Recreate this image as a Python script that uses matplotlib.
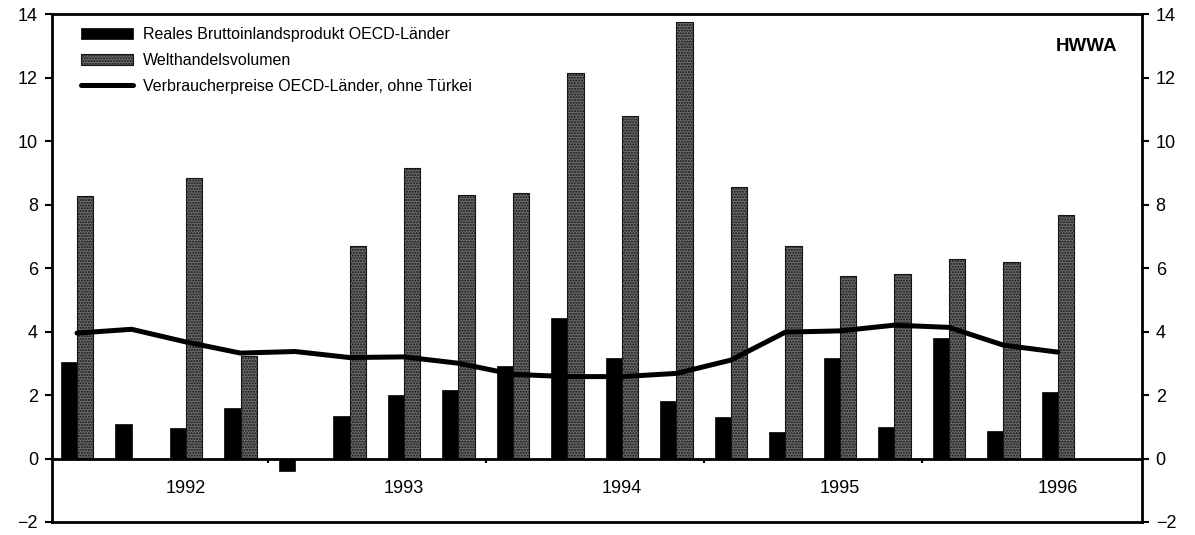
import numpy as np
import matplotlib
matplotlib.use('Agg')
import matplotlib.pyplot as plt

plt.rcParams['font.family'] = ['Liberation Sans', 'DejaVu Sans']

# quarterly values, 1992 Q1 .. 1996 Q3
quarters = np.arange(19)
bip = [3.03, 1.08, 0.95, 1.6, -0.4, 1.33, 2.0, 2.15, 2.9, 4.43,
       3.18, 1.8, 1.3, 0.83, 3.18, 0.98, 3.8, 0.86, 2.08]
welthandel = [8.26, np.nan, 8.84, 3.22, np.nan, 6.7, 9.15, 8.3, 8.36, 12.14,
              10.8, 13.76, 8.55, 6.68, 5.76, 5.82, 6.27, 6.2, 7.68]
preise = [3.95, 4.07, 3.67, 3.32, 3.37, 3.18, 3.2, 3.0, 2.65, 2.58,
          2.58, 2.68, 3.1, 3.98, 4.02, 4.2, 4.13, 3.57, 3.35]
jahre = ['1992', '1993', '1994', '1995', '1996']
jahr_pos = [2, 6, 10, 14, 18]
jahr_grenzen = [3.5, 7.5, 11.5, 15.5]

fig = plt.figure(figsize=(11.95, 5.35), dpi=100)
ax = fig.add_axes([0.0435, 0.0243, 0.912, 0.9495])

w = 0.3
b1 = ax.bar(quarters - w / 2, bip, width=w, color='black', edgecolor='black',
            linewidth=0.5, label='Reales Bruttoinlandsprodukt OECD-Länder', zorder=2)
b2 = ax.bar(quarters + w / 2, welthandel, width=w, color='#6a6a6a', edgecolor='#151515',
            hatch='......', linewidth=0.8, label='Welthandelsvolumen', zorder=2)
l1, = ax.plot(quarters, preise, color='black', lw=3.6, solid_capstyle='round',
              label='Verbraucherpreise OECD-Länder, ohne Türkei', zorder=3)

ax.axhline(0, color='black', lw=2, zorder=4)
ax.vlines(jahr_grenzen, -0.15, 0, color='black', lw=1.5, zorder=4)
for j, p in zip(jahre, jahr_pos):
    ax.text(p, -0.95, j, ha='center', va='center', fontsize=13)

ax.text(19.08, 12.97, 'HWWA', ha='right', va='center', fontsize=13.5, fontweight='bold')

ax.set_xlim(-0.46, 19.54)
ax.set_ylim(-2, 14)
ax.set_yticks(np.arange(-2, 15, 2))
ax.set_xticks([])
ax.tick_params(axis='y', left=True, right=True, labelleft=True, labelright=True,
               direction='out', length=5, width=1.5, labelsize=13, pad=5)
for s in ax.spines.values():
    s.set_linewidth(2)

ax.legend(handles=[b1, b2, l1], loc='upper left', bbox_to_anchor=(0.019, 0.99),
          frameon=False, fontsize=11.5, handlelength=3.3, handleheight=0.75,
          labelspacing=0.68, borderpad=0, handletextpad=0.6)

fig.savefig('out.png', dpi=100)
